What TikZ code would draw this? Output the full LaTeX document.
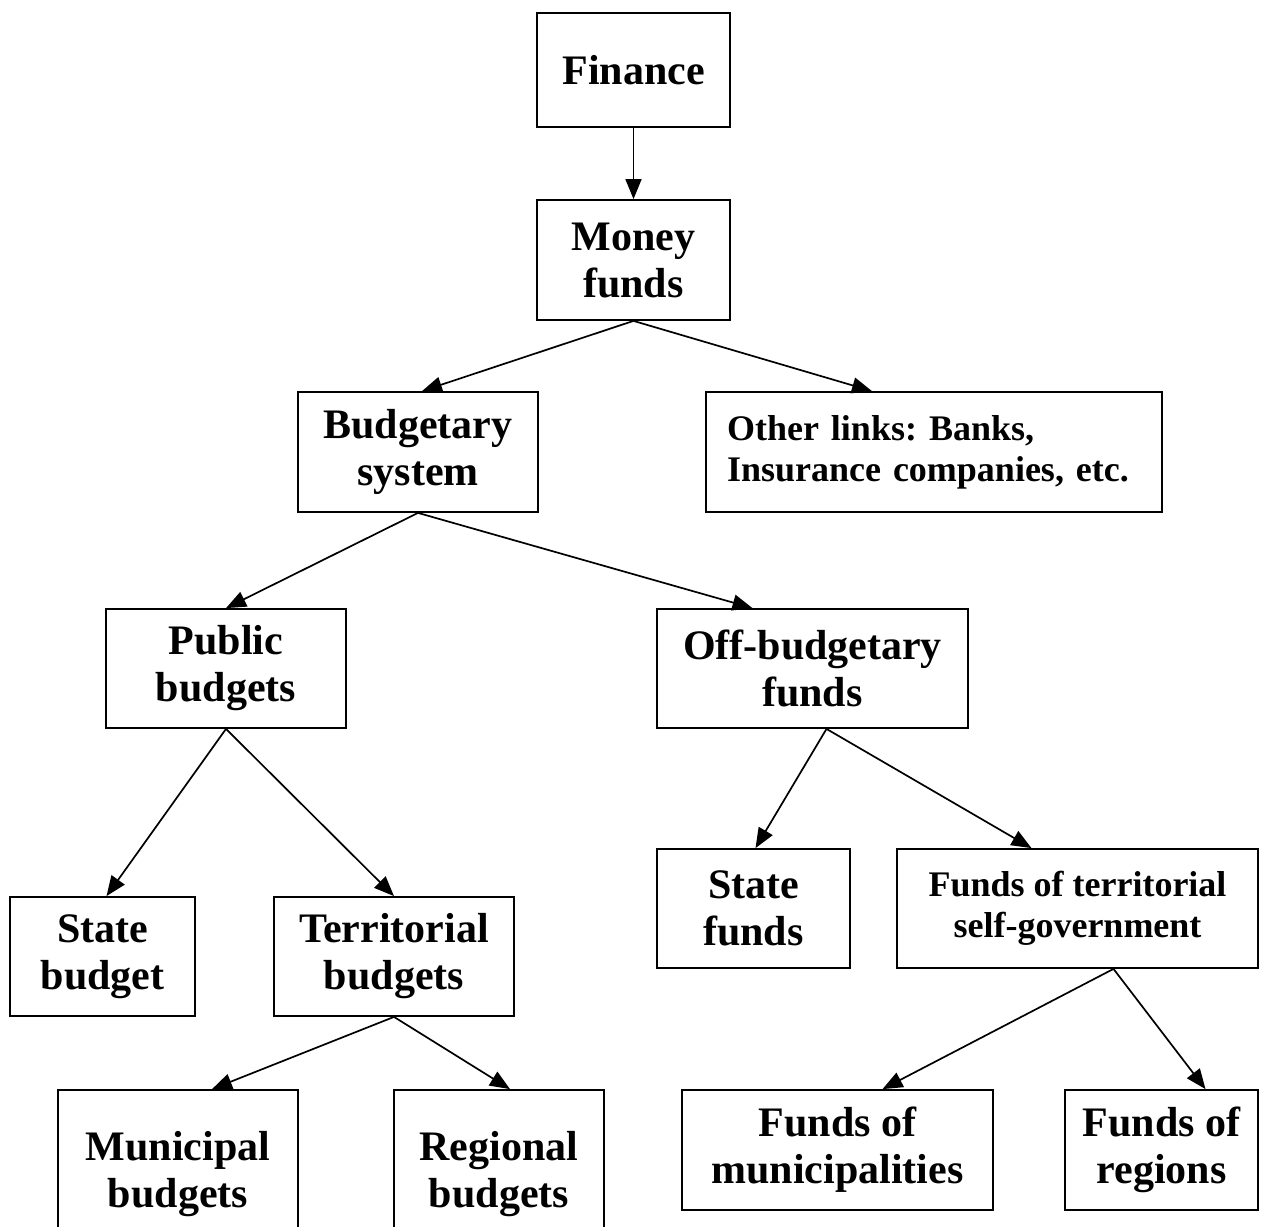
\documentclass[tikz,border=0pt]{standalone}
\usepackage{fontspec}
\setmainfont{Liberation Serif}
\usetikzlibrary{arrows.meta}
\frenchspacing

\begin{document}
\begin{tikzpicture}[x=0.5pt, y=-0.5pt,
    box/.style={rectangle, draw, line width=0.9pt, align=center, inner sep=0pt,
      font=\fontsize{21}{23.5}\selectfont\bfseries},
    smallbox/.style={box, font=\fontsize{18}{20.5}\selectfont\bfseries},
    link/.style={-{Triangle[length=10pt,width=8pt]}, line width=0.85pt}]

    \useasboundingbox (0,0) rectangle (1270,1227);
    \clip (0,0) rectangle (1270,1227);

    % Nodes
    \node[box, minimum width=96.5pt, minimum height=57pt] (finance) at (633.5,70) {\raisebox{-2pt}{Finance}};
    \node[box, minimum width=96.5pt, minimum height=60pt] (money) at (633.5,260) {Money\\funds};
    \node[box, minimum width=120pt, minimum height=60pt] (budget) at (418,452) {Budgetary\\system};
    \node[smallbox, align=left, text width=207pt, inner xsep=10.5pt, minimum height=60pt] (other) at (934,452) {Other links: Banks,\\Insurance companies, etc.};
    \node[box, minimum width=120pt, minimum height=59.5pt] (public) at (226,668.5) {Public\\budgets};
    \node[box, minimum width=155.5pt, minimum height=59.5pt] (offbudget) at (812.5,668.5) {Off-budgetary\\funds};
    \node[box, minimum width=92.5pt, minimum height=59.5pt] (statebudget) at (102.5,956.5) {State\\budget};
    \node[box, minimum width=120pt, minimum height=59.5pt] (territorial) at (394,956.5) {Territorial\\budgets};
    \node[box, minimum width=96.5pt, minimum height=59.5pt] (statefunds) at (753.5,908.5) {State\\funds};
    \node[smallbox, minimum width=180.5pt, minimum height=59.5pt] (selfgov) at (1077.5,908.5) {Funds of territorial\\self-government};
    \node[box, minimum width=120pt, minimum height=84pt] (municipal) at (178,1174) {Municipal\\budgets};
    \node[box, minimum width=105pt, minimum height=84pt] (regional) at (499,1174) {Regional\\budgets};
    \node[box, minimum width=155.5pt, minimum height=60pt] (fundsmun) at (837.5,1150) {Funds of\\municipalities};
    \node[box, minimum width=96.5pt, minimum height=60pt] (fundsreg) at (1161.5,1150) {Funds of\\regions};

    % Arrows
    \draw[link] (finance) -- (money);
    \draw[link] (money.south) -- ([xshift=2pt]budget.north);
    \draw[link] (money.south) -- ([xshift=-31pt]other.north);
    \draw[link] (budget.south) -- (public.north);
    \draw[link] (budget.south) -- ([xshift=-30pt]offbudget.north);
    \draw[link] (public.south) -- ([xshift=2pt]statebudget.north);
    \draw[link] (public.south) -- (territorial.north);
    \draw[link] ([xshift=7pt]offbudget.south) -- ([xshift=1pt]statefunds.north);
    \draw[link] ([xshift=7pt]offbudget.south) -- ([xshift=-23pt]selfgov.north);
    \draw[link] (territorial.south) -- ([xshift=17pt]municipal.north);
    \draw[link] (territorial.south) -- ([xshift=5.5pt]regional.north);
    \draw[link] ([xshift=18pt]selfgov.south) -- ([xshift=22.5pt]fundsmun.north);
    \draw[link] ([xshift=18pt]selfgov.south) -- ([xshift=22pt]fundsreg.north);
  \end{tikzpicture}
\end{document}
